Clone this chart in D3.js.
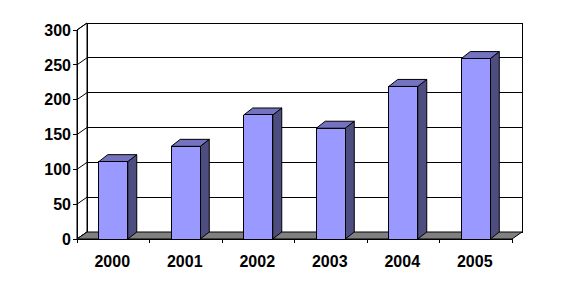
<!DOCTYPE html>
<html><head><meta charset="utf-8">
<script src="https://cdn.jsdelivr.net/npm/d3@7"></script>
<style>body{margin:0;background:#fff}svg{display:block}</style>
</head><body>
<svg id="c" width="561" height="287"></svg>
<script>
const categories = ["2000","2001","2002","2003","2004","2005"];
const values = [111, 133, 178, 159, 219, 259];
const yTicks = [0, 50, 100, 150, 200, 250, 300];

const svg = d3.select("#c");
const x0 = 77, x1 = 512, yb = 239, yt = 30;
const DX = 10, DY = -7;      // wall depth
const BX = 9, BY = -7;       // bar depth
const x = d3.scaleBand().domain(categories).range([x0, x1]).paddingInner(0.6).paddingOuter(0.3);
const y = d3.scaleLinear().domain([0, 300]).range([yb, yt]);
const font = "'Liberation Sans', Arial, sans-serif";
const poly = pts => pts.map(p => p.join(",")).join(" ");
const crisp = "crispEdges";

// back wall
svg.append("rect").attr("x", x0 + DX).attr("y", y(300) + DY)
  .attr("width", x1 - x0).attr("height", y(0) - y(300))
  .attr("fill", "#fff").attr("stroke", "#000").attr("stroke-width", 1).attr("shape-rendering", crisp);
// left wall
svg.append("polygon").attr("points", poly([[x0, y(300)], [x0 + DX, y(300) + DY], [x0 + DX, y(0) + DY], [x0, y(0)]]))
  .attr("fill", "#fff").attr("stroke", "#000");
// gridlines
yTicks.forEach(v => {
  svg.append("line").attr("x1", x0 + DX).attr("x2", x1 + DX).attr("y1", y(v) + DY).attr("y2", y(v) + DY)
    .attr("stroke", "#000").attr("shape-rendering", crisp);
  svg.append("line").attr("x1", x0).attr("x2", x0 + DX).attr("y1", y(v)).attr("y2", y(v) + DY)
    .attr("stroke", "#000");
});
// floor
svg.append("polygon").attr("points", poly([[x0, y(0)], [x1, y(0)], [x1 + DX, y(0) + DY], [x0 + DX, y(0) + DY]]))
  .attr("fill", "#808080").attr("stroke", "#000");

// bars
const g = svg.append("g").attr("stroke", "#000").attr("stroke-width", 1).attr("stroke-linejoin", "round");
categories.forEach((c, i) => {
  const bx = x(c), bw = x.bandwidth(), top = y(values[i]), bot = y(0);
  g.append("polygon").attr("points", poly([[bx + bw, top], [bx + bw + BX, top + BY], [bx + bw + BX, bot + BY], [bx + bw, bot]]))
    .attr("fill", "#4D4D80");
  g.append("polygon").attr("points", poly([[bx, top], [bx + BX, top + BY], [bx + bw + BX, top + BY], [bx + bw, top]]))
    .attr("fill", "#7373BF");
  g.append("rect").attr("x", bx).attr("y", top).attr("width", bw).attr("height", bot - top)
    .attr("fill", "#9999FF").attr("shape-rendering", crisp);
});

// y axis
svg.append("line").attr("x1", x0).attr("x2", x0).attr("y1", y(300)).attr("y2", y(0)).attr("stroke", "#000").attr("shape-rendering", crisp);
yTicks.forEach(v => {
  svg.append("line").attr("x1", x0 - 4).attr("x2", x0).attr("y1", y(v)).attr("y2", y(v)).attr("stroke", "#000").attr("shape-rendering", crisp);
  svg.append("text").attr("x", 71).attr("y", y(v)).attr("dy", "0.36em").attr("text-anchor", "end")
    .attr("font-family", font).attr("font-weight", "bold").attr("font-size", 16).attr("fill", "#000").text(v);
});
// x axis
svg.append("line").attr("x1", x0).attr("x2", x1).attr("y1", y(0)).attr("y2", y(0)).attr("stroke", "#000").attr("shape-rendering", crisp);
const bounds = [x0].concat(categories.map(c => x(c) - x.step() * x.paddingInner() / 2 + x.step()));
bounds[bounds.length - 1] = x1;
bounds.forEach(b => {
  svg.append("line").attr("x1", b).attr("x2", b).attr("y1", y(0)).attr("y2", y(0) + 4).attr("stroke", "#000").attr("shape-rendering", crisp);
});
categories.forEach(c => {
  svg.append("text").attr("x", x(c) + x.bandwidth() / 2 - 1).attr("y", 267).attr("text-anchor", "middle")
    .attr("font-family", font).attr("font-weight", "bold").attr("font-size", 16).attr("fill", "#000").text(c);
});
</script>
</body></html>
